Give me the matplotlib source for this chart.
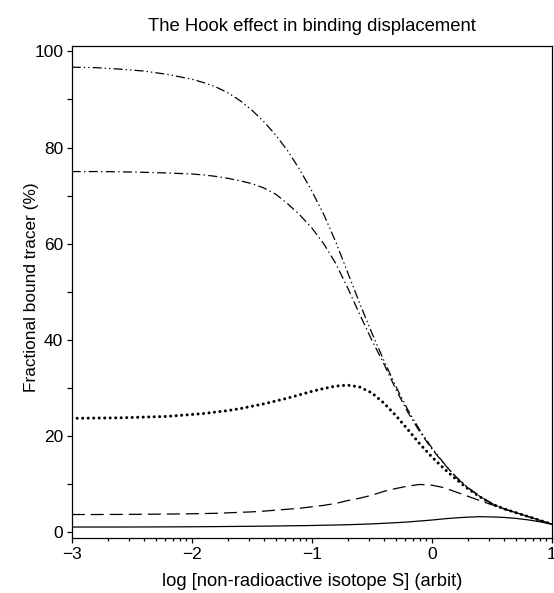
from matplotlib import pyplot as plt
from matplotlib.ticker import FixedLocator, MultipleLocator
import numpy as np

#####################################################################
# Hookuv efekt - vytesnovani vazby
#####################################################################

logS = [-3.0, -2.8, -2.6, -2.4, -2.2, -2.0, -1.9, -1.8, -1.7, -1.6, -1.5, -1.4, -1.3, -1.2,
        -1.1, -1.0, -0.9, -0.8, -0.7, -0.6, -0.5, -0.4, -0.3, -0.2, -0.1, 0.0, 0.1, 0.2,
        0.3, 0.4, 0.5, 0.6, 0.7, 0.8, 0.9, 1.0]

B1 = [96.7, 96.6, 96.3, 95.9, 95.2, 94.2, 93.5, 92.6, 91.4, 89.8, 87.8, 85.4, 82.6, 79.3,
      75.4, 71.0, 66.1, 60.4, 54.0, 47.6, 41.5, 35.8, 30.4, 25.5, 21.3, 17.6, 14.4, 11.6,
      9.3, 7.5, 6.0, 4.9, 4.1, 3.3, 2.5, 1.7]
B2 = [75.0, 75.0, 74.95, 74.85, 74.7, 74.5, 74.3, 74.0, 73.6, 73.1, 72.5, 71.6, 70.3, 68.3,
      66.0, 63.3, 60.0, 55.9, 50.8, 45.3, 40.0, 35.1, 29.8, 25.0, 20.9, 17.4, 14.3, 11.5,
      9.3, 7.5, 6.0, 4.9, 4.1, 3.3, 2.5, 1.7]
B3 = [23.7, 23.75, 23.8, 23.95, 24.1, 24.5, 24.7, 25.0, 25.3, 25.7, 26.2, 26.7, 27.3, 27.9,
      28.6, 29.3, 29.9, 30.4, 30.6, 30.2, 29.0, 26.9, 24.3, 21.4, 18.4, 15.7, 13.3, 11.1,
      9.1, 7.4, 5.9, 4.9, 4.1, 3.3, 2.5, 1.7]
B4 = [3.7, 3.7, 3.72, 3.75, 3.8, 3.85, 3.9, 3.95, 4.05, 4.15, 4.25, 4.4, 4.6, 4.8,
      5.0, 5.3, 5.6, 6.0, 6.6, 7.1, 7.7, 8.5, 9.1, 9.6, 9.95, 9.8, 9.3, 8.4,
      7.5, 6.6, 5.75, 4.9, 4.1, 3.3, 2.5, 1.7]
B5 = [1.1, 1.1, 1.1, 1.11, 1.13, 1.15, 1.17, 1.19, 1.21, 1.23, 1.25, 1.28, 1.31, 1.35,
      1.38, 1.42, 1.47, 1.52, 1.58, 1.66, 1.75, 1.87, 2.0, 2.15, 2.35, 2.55, 2.8, 3.0,
      3.15, 3.25, 3.2, 3.1, 2.9, 2.6, 2.2, 1.7]

plt.rcParams['font.family'] = ['Liberation Sans', 'DejaVu Sans']
plt.rcParams['lines.scale_dashes'] = False

fig = plt.figure(figsize=(5.54, 5.93), dpi=100)
ax = fig.add_axes([0.1294, 0.0922, 0.8665, 0.8302])

ax.plot(logS, B1, color="black", linewidth=0.9, dashes=(6.5, 2.2, 1.0, 2.2, 1.0, 2.2))
ax.plot(logS, B2, color="black", linewidth=0.9, dashes=(6.5, 2.4, 1.0, 2.4))
ax.plot(logS, B3, color="black", linewidth=2.2, dashes=(0.01, 3.95), dash_capstyle="round")
ax.plot(logS, B4, color="black", linewidth=0.9, dashes=(9.4, 4.3))
ax.plot(logS, B5, color="black", linewidth=0.9)

ax.set_xlim(-3, 1)
ax.set_ylim(-1.25, 101.1)

# vedlejsi znacky na x jako v logaritmicke dekade
decades = np.arange(-3, 1)
minor = [d + np.log10(k) for d in decades for k in range(2, 10)]
ax.xaxis.set_major_locator(FixedLocator([-3, -2, -1, 0, 1]))
ax.xaxis.set_minor_locator(FixedLocator(minor))
ax.yaxis.set_major_locator(MultipleLocator(20))
ax.yaxis.set_minor_locator(MultipleLocator(10))

ax.tick_params(axis="both", which="major", direction="out", length=3.6, width=0.9, labelsize=12.5, pad=2.5)
ax.tick_params(axis="x", which="minor", direction="out", length=2.4, width=0.9)
ax.tick_params(axis="y", which="minor", direction="out", length=3.6, width=0.9)
ax.set_xticklabels(["\u22123", "\u22122", "\u22121", "0", "1"])

for s in ax.spines.values():
    s.set_linewidth(0.9)

ax.set_title("The Hook effect in binding displacement", fontsize=13.3, pad=10.5)
ax.set_ylabel("Fractional bound tracer (%)", fontsize=12.4)
ax.yaxis.set_label_coords(-0.068, 0.51)
ax.set_xlabel("log [non-radioactive isotope S] (arbit)", fontsize=13.2, labelpad=8)

plt.savefig("out.png", dpi=100)
